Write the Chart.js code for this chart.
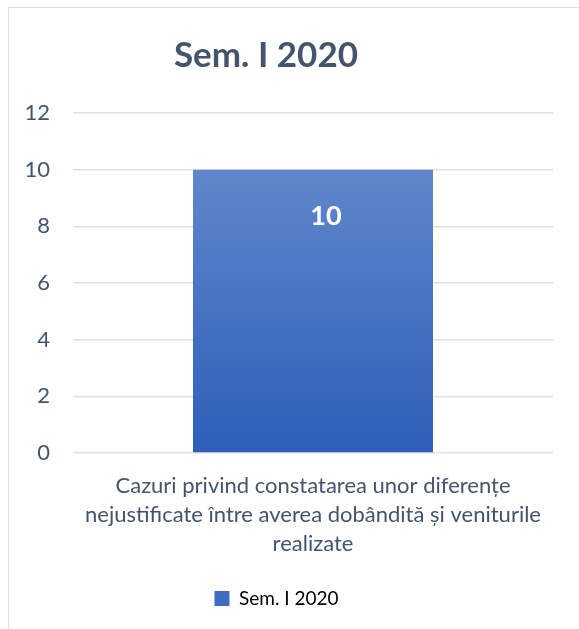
<!DOCTYPE html>
<html>
<head>
<meta charset="utf-8">
<script src="https://cdn.jsdelivr.net/npm/chart.js@4/dist/chart.umd.min.js"></script>
<style>
  html, body { margin: 0; padding: 0; background: #fff; }
  #wrap { position: relative; width: 579px; height: 629px; overflow: hidden; }
  #frame { position: absolute; left: 8px; top: 7px; width: 600px; height: 700px; border-left: 1px solid #D9DEE4; border-top: 1px solid #D9DEE4; box-sizing: border-box; }
  canvas { position: absolute; left: 0; top: 0; }
  #title { position: absolute; left: 116px; width: 300px; top: 31px; height: 44px; line-height: 44px; text-align: center;
           font-family: Lato, 'Open Sans', sans-serif; font-weight: bold; font-size: 35px; color: #44546A; white-space: nowrap; }
</style>
</head>
<body>
<div id="wrap">
  <div id="frame"></div>
  <canvas id="c" width="579" height="629"></canvas>
  <div id="title"></div>
</div>
<script>
const chartTitle = "Sem. I 2020";
const categories = [["Cazuri privind constatarea unor diferențe", "nejustificate între averea dobândită și veniturile", "realizate"]];
const seriesName = "Sem. I 2020";
const seriesValues = [10];
const yTicks = [0, 2, 4, 6, 8, 10, 12];

document.getElementById("title").textContent = chartTitle;

const textColor = "#44546A";
const fontFamily = "Lato, 'Open Sans', 'DejaVu Sans', sans-serif";

const valueLabels = {
  id: "valueLabels",
  afterDatasetsDraw(chart) {
    const ctx = chart.ctx;
    const meta = chart.getDatasetMeta(0);
    ctx.save();
    ctx.fillStyle = "#FFFFFF";
    ctx.font = "bold 27px " + fontFamily;
    ctx.textAlign = "center";
    ctx.textBaseline = "middle";
    meta.data.forEach((bar, i) => {
      ctx.fillText(String(seriesValues[i]), bar.x + 13, bar.y + 47);
    });
    ctx.restore();
  }
};

function barGradient(context) {
  const chart = context.chart;
  const area = chart.chartArea;
  if (!area) return "#4472C4";
  const yTop = chart.scales.y.getPixelForValue(seriesValues[0]);
  const g = chart.ctx.createLinearGradient(0, yTop, 0, area.bottom);
  g.addColorStop(0, "#6087CB");
  g.addColorStop(1, "#2E5EB9");
  return g;
}

new Chart(document.getElementById("c"), {
  type: "bar",
  data: {
    labels: categories,
    datasets: [{
      label: seriesName,
      data: seriesValues,
      backgroundColor: barGradient,
      borderWidth: 0,
      categoryPercentage: 0.5,
      barPercentage: 1.0
    }]
  },
  options: {
    responsive: false,
    animation: false,
    devicePixelRatio: 1,
    layout: { padding: { left: 0, right: 26, top: 113, bottom: 11 } },
    plugins: {
      title: { display: false },
      legend: {
        display: true,
        position: "bottom",
        labels: {
          color: textColor,
          font: { family: fontFamily, size: 19 },
          boxWidth: 15,
          boxHeight: 15,
          padding: 10,
          generateLabels(chart) {
            return [{
              text: seriesName,
              fillStyle: "#3F6BC2",
              strokeStyle: "#3F6BC2",
              lineWidth: 0,
              datasetIndex: 0,
              hidden: false
            }];
          }
        }
      },
      tooltip: { enabled: false }
    },
    scales: {
      x: {
        grid: { display: false, drawTicks: false },
        border: { display: false },
        ticks: {
          color: textColor,
          font: { family: fontFamily, size: 22, lineHeight: 1.318 },
          padding: 18,
          maxRotation: 0,
          autoSkip: false
        },
        afterFit(scale) { scale.height = 126; }
      },
      y: {
        min: 0,
        max: 12,
        afterBuildTicks(scale) { scale.ticks = yTicks.map(v => ({ value: v })); },
        grid: { color: "#DDE1E6", lineWidth: 1.4, drawTicks: false },
        border: { display: false },
        ticks: {
          color: textColor,
          font: { family: fontFamily, size: 22 },
          padding: 23
        },
        afterFit(scale) { scale.width = 73; }
      }
    }
  },
  plugins: [valueLabels]
});
</script>
</body>
</html>
